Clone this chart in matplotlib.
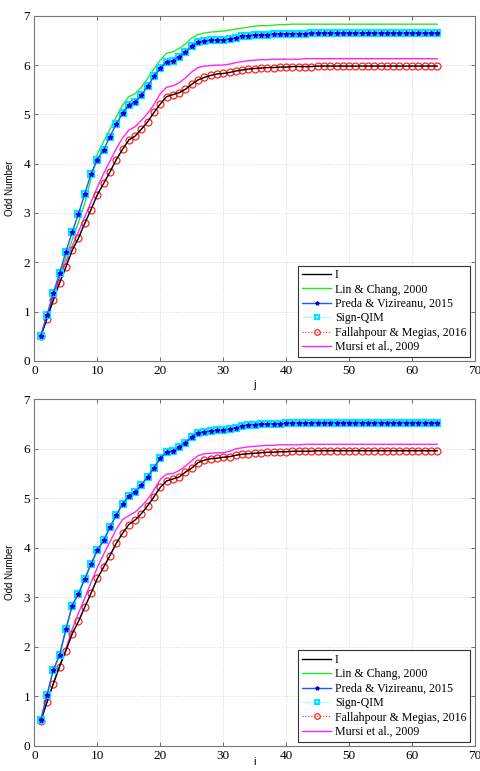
import numpy as np
import matplotlib
matplotlib.use('Agg')
import matplotlib.pyplot as plt

idx = np.arange(1, 65)

labels = ['I', 'Lin & Chang, 2000', 'Preda & Vizireanu, 2015', 'Sign-QIM',
          'Fallahpour & Megias, 2016', 'Mursi et al., 2009']

# ---- top panel (x label j) ----
top_red = [0.50, 0.85, 1.23, 1.58, 1.90, 2.24, 2.49, 2.79, 3.07, 3.37,
           3.60, 3.83, 4.08, 4.29, 4.48, 4.56, 4.70, 4.85, 5.04, 5.21,
           5.36, 5.40, 5.44, 5.51, 5.61, 5.70, 5.75, 5.79, 5.82, 5.83,
           5.85, 5.88, 5.90, 5.92, 5.93, 5.94, 5.95, 5.95, 5.96, 5.96,
           5.97, 5.97, 5.97, 5.97, 5.98, 5.98, 5.98, 5.98, 5.98, 5.98,
           5.98, 5.98, 5.98, 5.98, 5.98, 5.98, 5.98, 5.98, 5.98, 5.98,
           5.98, 5.98, 5.98, 5.98]
top_black = list(top_red)
top_blue = [0.50, 0.93, 1.37, 1.78, 2.21, 2.61, 2.98, 3.39, 3.79, 4.08,
            4.28, 4.55, 4.80, 5.02, 5.19, 5.25, 5.39, 5.57, 5.77, 5.94,
            6.07, 6.09, 6.17, 6.26, 6.38, 6.46, 6.48, 6.50, 6.51, 6.51,
            6.53, 6.55, 6.59, 6.60, 6.61, 6.62, 6.62, 6.63, 6.63, 6.64,
            6.64, 6.64, 6.64, 6.65, 6.65, 6.65, 6.65, 6.65, 6.65, 6.65,
            6.65, 6.65, 6.65, 6.65, 6.65, 6.65, 6.65, 6.65, 6.65, 6.65,
            6.65, 6.65, 6.65, 6.65]
top_cyan = list(top_blue)
top_green = [0.50, 0.90, 1.33, 1.72, 2.10, 2.45, 2.80, 3.20, 3.70, 4.20,
             4.45, 4.70, 4.95, 5.18, 5.36, 5.42, 5.55, 5.73, 5.93, 6.10,
             6.24, 6.27, 6.34, 6.43, 6.55, 6.62, 6.65, 6.67, 6.68, 6.69,
             6.71, 6.73, 6.75, 6.77, 6.79, 6.80, 6.80, 6.81, 6.82, 6.82,
             6.83, 6.83, 6.83, 6.83, 6.83, 6.83, 6.83, 6.83, 6.83, 6.83,
             6.83, 6.83, 6.83, 6.83, 6.83, 6.83, 6.83, 6.83, 6.83, 6.83,
             6.83, 6.83, 6.83, 6.83]
top_mag = [0.50, 0.90, 1.30, 1.68, 2.00, 2.32, 2.62, 2.92, 3.22, 3.52,
           3.80, 4.05, 4.30, 4.52, 4.68, 4.75, 4.88, 5.02, 5.20, 5.42,
           5.55, 5.58, 5.64, 5.74, 5.86, 5.95, 5.98, 5.99, 6.00, 6.00,
           6.02, 6.05, 6.07, 6.09, 6.10, 6.11, 6.11, 6.12, 6.12, 6.12,
           6.12, 6.12, 6.13, 6.13, 6.13, 6.13, 6.13, 6.13, 6.13, 6.13,
           6.13, 6.13, 6.13, 6.13, 6.13, 6.13, 6.13, 6.13, 6.13, 6.13,
           6.13, 6.13, 6.13, 6.13]

# ---- bottom panel (x label i) ----
bot_red = [0.50, 0.88, 1.25, 1.60, 1.92, 2.26, 2.51, 2.80, 3.08, 3.38,
           3.61, 3.84, 4.09, 4.29, 4.47, 4.56, 4.69, 4.85, 5.03, 5.22,
           5.35, 5.39, 5.43, 5.53, 5.61, 5.72, 5.77, 5.80, 5.81, 5.83,
           5.84, 5.87, 5.89, 5.90, 5.91, 5.92, 5.93, 5.93, 5.94, 5.94,
           5.95, 5.95, 5.95, 5.95, 5.96, 5.96, 5.96, 5.96, 5.96, 5.96,
           5.96, 5.96, 5.96, 5.96, 5.96, 5.96, 5.96, 5.96, 5.96, 5.96,
           5.96, 5.96, 5.96, 5.96]
bot_black = list(bot_red)
bot_blue = [0.51, 1.02, 1.53, 1.83, 2.35, 2.83, 3.07, 3.37, 3.67, 3.95,
            4.15, 4.41, 4.66, 4.88, 5.05, 5.12, 5.27, 5.43, 5.62, 5.81,
            5.93, 5.95, 6.03, 6.12, 6.24, 6.32, 6.34, 6.36, 6.37, 6.37,
            6.40, 6.42, 6.46, 6.48, 6.49, 6.50, 6.50, 6.51, 6.51, 6.52,
            6.52, 6.52, 6.52, 6.53, 6.53, 6.53, 6.53, 6.53, 6.53, 6.53,
            6.53, 6.53, 6.53, 6.53, 6.53, 6.53, 6.53, 6.53, 6.53, 6.53,
            6.53, 6.53, 6.53, 6.53]
bot_cyan = list(bot_blue)
bot_green = list(bot_blue)
bot_mag = [0.50, 0.88, 1.25, 1.60, 1.95, 2.35, 2.68, 2.98, 3.30, 3.60,
           3.87, 4.12, 4.37, 4.57, 4.65, 4.72, 4.84, 4.98, 5.17, 5.38,
           5.49, 5.50, 5.56, 5.65, 5.76, 5.86, 5.90, 5.91, 5.92, 5.92,
           5.95, 6.00, 6.02, 6.04, 6.05, 6.06, 6.07, 6.07, 6.08, 6.08,
           6.08, 6.08, 6.09, 6.09, 6.09, 6.09, 6.09, 6.09, 6.09, 6.09,
           6.09, 6.09, 6.09, 6.09, 6.09, 6.09, 6.09, 6.09, 6.09, 6.09,
           6.09, 6.09, 6.09, 6.09]

serif = 'Liberation Serif'
sans = 'Liberation Sans'


def panel(ax, black, green, blue, cyan, red, mag, xlab, xlab_y):
    ax.plot(idx, black, '-', color='k', lw=1.0, label=labels[0], zorder=3)
    ax.plot(idx, green, '-', color='#22ee22', lw=1.0, label=labels[1])
    ax.plot(idx, blue, '-', color='#2255ff', lw=1.0, marker='*', ms=3.5,
            mfc='#0000dd', mec='#0000dd', label=labels[2], zorder=4)
    ax.plot(idx, cyan, ':', color='cyan', lw=0.6, marker='s', ms=4.2,
            mfc='none', mec='#00e5ff', mew=1.6, label=labels[3], zorder=3.5)
    ax.plot(idx, red, ':', color='#ff2222', lw=0.8, marker='o', ms=5,
            mfc='none', mec='#ff2222', mew=0.9, label=labels[4], zorder=2.5)
    ax.plot(idx, mag, '-', color='#ff22ff', lw=1.0, label=labels[5], zorder=2)

    ax.set_xlim(0, 70)
    ax.set_ylim(0, 7)
    ax.set_xticks(range(0, 71, 10))
    ax.set_yticks(range(0, 8))
    ax.grid(True, ls=':', color='#d8d8d8', lw=0.7)
    ax.tick_params(direction='in', length=3, width=0.6, color='#555555',
                   top=True, right=True, labelsize=9.5, pad=3)
    for lab in ax.get_xticklabels() + ax.get_yticklabels():
        lab.set_family(serif)
    for sp in ax.spines.values():
        sp.set_color('#777777')
        sp.set_linewidth(0.8)
    ax.set_ylabel('Odd Number', family=sans, fontsize=7, labelpad=6)
    ax.set_xlabel(xlab, family=sans, fontsize=8)
    ax.xaxis.set_label_coords(0.5, xlab_y)

    leg = ax.legend(loc='lower right', bbox_to_anchor=(0.989, 0.012),
                    borderaxespad=0, fancybox=False, framealpha=1,
                    prop={'family': serif, 'size': 8.6},
                    handlelength=2.5, handletextpad=0.3,
                    labelspacing=0.2, borderpad=0.3, markerscale=0.8)
    leg.get_frame().set_edgecolor('#333333')
    leg.get_frame().set_linewidth(0.8)


fig = plt.figure(figsize=(4.81, 7.71), dpi=100)
ax1 = fig.add_axes([0.0715, 0.532, 0.916, 0.4475])
ax2 = fig.add_axes([0.0715, 0.0328, 0.916, 0.4493])

panel(ax1, top_black, top_green, top_blue, top_cyan, top_red, top_mag, 'j', -0.055)
panel(ax2, bot_black, bot_green, bot_blue, bot_cyan, bot_red, bot_mag, 'i', -0.034)

fig.savefig('out.png', dpi=100)
